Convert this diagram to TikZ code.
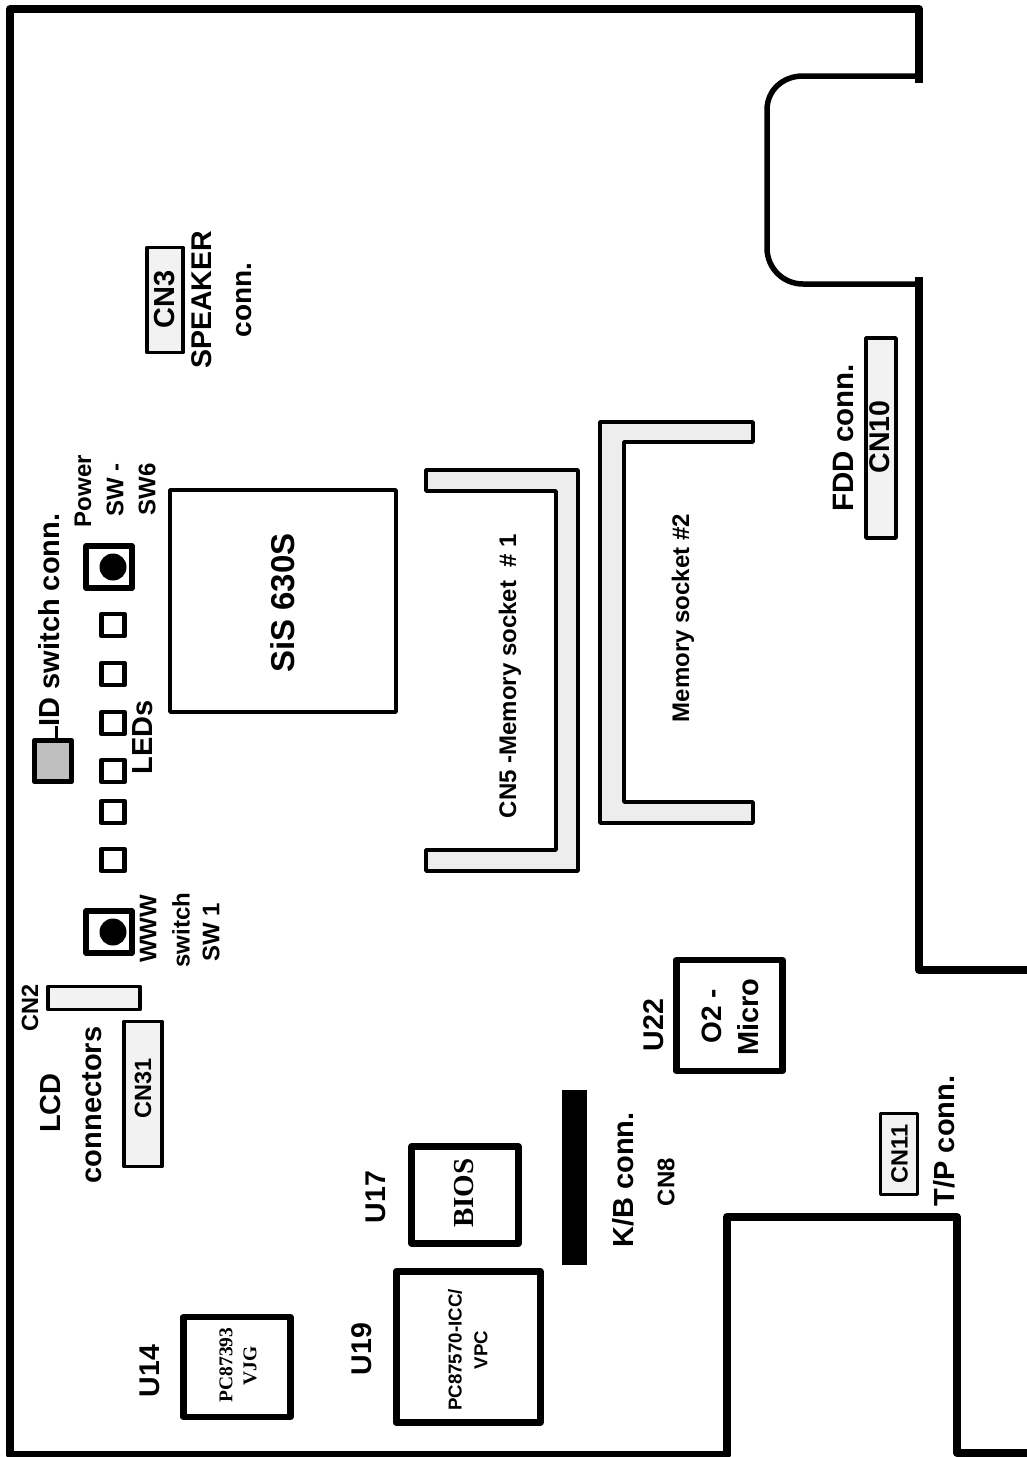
\documentclass[tikz,border=0pt]{standalone}
\usepackage{fontspec}
\setmainfont{Liberation Sans}
\newfontfamily\serifbold{Liberation Serif}
\newcommand{\fsz}[1]{\fontsize{#1}{#1}\selectfont}
\tikzset{
  edge/.style={line width=8pt,line join=round},
  notch/.style={line width=5.5pt,line join=round},
  chip/.style={draw=black,fill=white,line join=round,inner sep=0pt,outer sep=0pt},
  light/.style={draw=black,fill=black!5,line width=3.5pt,line join=round,inner sep=0pt,outer sep=0pt},
  sock/.style={draw=black,fill=black!7,line width=3.5pt,line join=round},
  led/.style={chip,line width=4.5pt,minimum width=23pt,minimum height=22pt},
  btn/.style={chip,line width=5.5pt,minimum width=46pt,minimum height=42pt},
  dot/.style={circle,fill=black,inner sep=0pt,minimum size=27pt},
  txt/.style={rotate=90,inner sep=0pt,align=center,font=\bfseries},
  stxt/.style={rotate=90,inner sep=0pt,align=center,font=\serifbold\bfseries}
}
\begin{document}
\begin{tikzpicture}[x=1pt,y=-1pt]
\useasboundingbox (0,0) rectangle (1027,1457);
% board outline
\draw[edge] (919,83) -- (919,9) -- (10,9) -- (10,1455) -- (727,1455) -- (727,1217) -- (957,1217) -- (957,1453) -- (1027,1453);
\draw[edge] (919,277) -- (919,970) -- (1027,970);
\draw[notch] (919,76) -- (803,76) .. controls (783,76) and (767,90) .. (767,110) -- (767,248) .. controls (767,268) and (783,284) .. (803,284) -- (919,284);
% large chip
\node[chip,line width=3.5pt,minimum width=226pt,minimum height=222pt] (sis) at (283,601) {};
\node[txt] (sist) at (283,603) {\fsz{33}SiS 630S};
% memory sockets
\draw[sock] (426,470) -- (578,470) -- (578,871) -- (426,871) -- (426,850) -- (556,850) -- (556,491) -- (426,491) -- cycle;
\draw[sock] (753,422) -- (600,422) -- (600,823) -- (753,823) -- (753,802) -- (624,802) -- (624,442) -- (753,442) -- cycle;
\node[txt] (m1) at (510,676) {\fsz{24}CN5 -Memory socket\ \ \# 1};
\node[txt] (m2) at (683,618) {\fsz{24}Memory socket \#2};
% LEDs
\node[led] (l1) at (113,625) {};
\node[led] (l2) at (113,674) {};
\node[led] (l3) at (113,723) {};
\node[led] (l4) at (113,771) {};
\node[led] (l5) at (113,812) {};
\node[led] (l6) at (113,860) {};
\node[txt] (ledt) at (143,737) {\fsz{29}LEDs};
% buttons
\node[btn] (pw) at (109,567) {};
\node[dot] (pwd) at (113,567) {};
\node[btn] (ww) at (109,932) {};
\node[dot] (wwd) at (113,932) {};
\node[txt] (pwa) at (83,491) {\fsz{24}Power};
\node[txt] (pwb) at (115,490) {\fsz{24}SW -};
\node[txt] (pwc) at (147,489) {\fsz{24}SW6};
\node[txt] (wwa) at (148,929) {\fsz{24}WWW};
\node[txt] (wwb) at (181,930) {\fsz{24}switch};
\node[txt] (wwc) at (211,932) {\fsz{24}SW 1};
% ID switch
\node[chip,line width=5.5pt,fill=black!25,minimum width=37pt,minimum height=41pt] (id) at (53,761) {};
\node[txt] (idt) at (49,620) {\fsz{29}ID switch conn.};
\coordinate (idl) at (56,726);
\draw[line width=3pt] (id.north -| idl) -- (idl);
% speaker
\node[chip,line width=3.5pt,fill=black!5,minimum width=36pt,minimum height=105pt] (cn3) at (165,300) {};
\node[txt] (cn3t) at (165,299) {\fsz{29}CN3};
\node[txt] (spk) at (202,300) {\fsz{28.5}SPEAKER};
\node[txt] (spc) at (244,300) {\fsz{28}conn.};
% FDD
\node[light,minimum width=30pt,minimum height=200pt] (cn10) at (881,438) {};
\node[txt] (cn10t) at (880,437) {\fsz{28.5}CN10};
\node[txt] (fdd) at (843,438) {\fsz{29.5}FDD conn.};
% LCD
\node[light,minimum width=92pt,minimum height=23pt] (cn2) at (94,998) {};
\node[txt] (cn2t) at (30,1008) {\fsz{23.5}CN2};
\node[light,minimum width=38pt,minimum height=145pt] (cn31) at (143,1094) {};
\node[txt] (cn31t) at (143,1088) {\fsz{23.5}CN31};
\node[txt] (lcda) at (51,1103) {\fsz{29}LCD};
\node[txt] (lcdb) at (92,1105) {\fsz{29}connectors};
% ICs
\node[chip,line width=6.5pt,minimum width=106pt,minimum height=111pt] (u22) at (729.5,1015.5) {};
\node[txt] (u22a) at (712,1016) {\fsz{28}O2 -};
\node[txt] (u22b) at (748,1017) {\fsz{29}Micro};
\node[txt] (u22l) at (654,1025) {\fsz{28.5}U22};
\node[fill=black,inner sep=0pt,minimum width=25pt,minimum height=175pt] (kb) at (574,1177) {};
\node[txt] (kbt) at (623,1180) {\fsz{29}K/B conn.};
\node[txt] (cn8) at (666,1182) {\fsz{24}CN8};
\node[chip,line width=6.5pt,minimum width=107pt,minimum height=97pt] (u17) at (465,1195) {};
\node[stxt] (biost) at (464,1193) {\fsz{29}BIOS};
\node[txt] (u17l) at (376,1197) {\fsz{28.5}U17};
\node[chip,line width=7pt,minimum width=144pt,minimum height=151pt] (u19) at (468,1347) {};
\node[txt] (u19a) at (455,1350) {\fsz{18.7}PC87570-ICC/};
\node[txt] (u19b) at (481,1350) {\fsz{18.7}VPC};
\node[txt] (u19l) at (362,1349) {\fsz{28.5}U19};
\node[chip,line width=6.5pt,minimum width=107pt,minimum height=100pt] (u14) at (237,1367) {};
\node[stxt] (u14a) at (226,1365) {\fsz{19.5}PC87393};
\node[stxt] (u14b) at (250,1366) {\fsz{19.5}VJG};
\node[txt] (u14l) at (150,1371) {\fsz{28.5}U14};
% T/P
\node[chip,line width=3.5pt,fill=black!5,minimum width=37pt,minimum height=81pt] (cn11) at (899,1154) {};
\node[txt] (cn11t) at (899.5,1154) {\fsz{23.5}CN11};
\node[txt] (tp) at (944,1141) {\fsz{29}T/P conn.};
\end{tikzpicture}
\end{document}
